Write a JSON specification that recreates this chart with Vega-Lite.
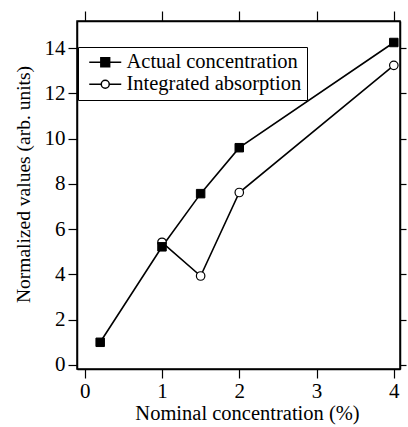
{
  "$schema": "https://vega.github.io/schema/vega-lite/v6.json",
  "width": 323,
  "height": 348,
  "autosize": "none",
  "padding": {"left": 77, "top": 21, "right": 8, "bottom": 58},
  "background": "white",
  "config": {
    "font": "Liberation Serif",
    "view": {"stroke": "black", "strokeWidth": 1.5},
    "axis": {
      "domainColor": "black",
      "domainWidth": 1.5,
      "tickColor": "black",
      "tickWidth": 1.2,
      "labelColor": "black",
      "labelFont": "Liberation Serif",
      "labelFontSize": 21,
      "titleColor": "black",
      "titleFont": "Liberation Serif",
      "titleFontSize": 20.5,
      "titleFontWeight": "normal",
      "grid": false
    }
  },
  "data": {
    "values": [
      {"series": "Integrated absorption", "conc": 1.0, "value": 5.42},
      {"series": "Integrated absorption", "conc": 1.5, "value": 3.93},
      {"series": "Integrated absorption", "conc": 2.0, "value": 7.62},
      {"series": "Integrated absorption", "conc": 4.0, "value": 13.24},
      {"series": "Actual concentration", "conc": 0.2, "value": 1.0},
      {"series": "Actual concentration", "conc": 1.0, "value": 5.22},
      {"series": "Actual concentration", "conc": 1.5, "value": 7.57},
      {"series": "Actual concentration", "conc": 2.0, "value": 9.6},
      {"series": "Actual concentration", "conc": 4.0, "value": 14.25}
    ]
  },
  "resolve": {"axis": {"x": "independent", "y": "independent"}},
  "layer": [
    {
      "mark": {"type": "line", "strokeWidth": 1.6},
      "encoding": {
        "x": {
          "field": "conc", "type": "quantitative",
          "scale": {"domain": [-0.1, 4.08], "nice": false, "zero": false},
          "axis": {"orient": "bottom", "values": [0, 1, 2, 3, 4], "tickSize": 9, "labelPadding": 2, "title": "Nominal concentration (%)", "titleFontSize": 20.5, "titlePadding": 2, "titleX": 170}
        },
        "y": {
          "field": "value", "type": "quantitative",
          "scale": {"domain": [-0.18, 15.2], "nice": false, "zero": false},
          "axis": {"orient": "left", "values": [0, 2, 4, 6, 8, 10, 12, 14], "tickSize": 9, "labelPadding": 3, "title": "Normalized values (arb. units)", "titleFontSize": 19.5, "titlePadding": 11, "titleY": 163}
        },
        "color": {
          "field": "series", "type": "nominal",
          "scale": {"domain": ["Actual concentration", "Integrated absorption"], "range": ["black", "black"]},
          "legend": {
            "orient": "none",
            "legendX": 1,
            "legendY": 26,
            "title": null,
            "strokeColor": "black",
            "fillColor": "white",
            "padding": 5,
            "labelFont": "Liberation Serif",
            "labelFontSize": 20.5,
            "labelColor": "black",
            "labelLimit": 0,
            "labelOffset": 11,
            "symbolSize": 256,
            "symbolOffset": 12,
            "rowPadding": 1,
            "symbolStrokeWidth": 1.5,
            "encode": {
              "symbols": {
                "update": {
                  "shape": {"signal": "datum.value === 'Actual concentration' ? 'M-2,0H2M-0.55,-0.55H0.55V0.55H-0.55Z' : 'M-2,0H-0.5M0.5,0H2M0.5,0A0.5,0.5 0 1,1 -0.5,0A0.5,0.5 0 1,1 0.5,0'"},
                  "fill": {"signal": "datum.value === 'Actual concentration' ? 'black' : 'white'"},
                  "stroke": {"value": "black"},
                  "strokeWidth": {"value": 1.5}
                }
              }
            }
          }
        }
      }
    },
    {
      "transform": [{"filter": "datum.series === 'Integrated absorption'"}],
      "mark": {"type": "point", "shape": "circle", "filled": true, "fill": "white", "stroke": "black", "strokeWidth": 1.2, "opacity": 1, "size": 72},
      "encoding": {
        "x": {
          "field": "conc", "type": "quantitative",
          "axis": {"orient": "top", "values": [0, 1, 2, 3, 4], "tickSize": 10, "labels": false, "title": null}
        },
        "y": {
          "field": "value", "type": "quantitative",
          "axis": {"orient": "right", "values": [0, 2, 4, 6, 8, 10, 12, 14], "tickSize": 6, "labels": false, "title": null}
        }
      }
    },
    {
      "transform": [{"filter": "datum.series === 'Actual concentration'"}],
      "mark": {"type": "point", "shape": "square", "filled": true, "fill": "black", "stroke": "black", "strokeWidth": 1, "opacity": 1, "size": 72},
      "encoding": {
        "x": {"field": "conc", "type": "quantitative", "axis": null},
        "y": {"field": "value", "type": "quantitative", "axis": null}
      }
    }
  ]
}
